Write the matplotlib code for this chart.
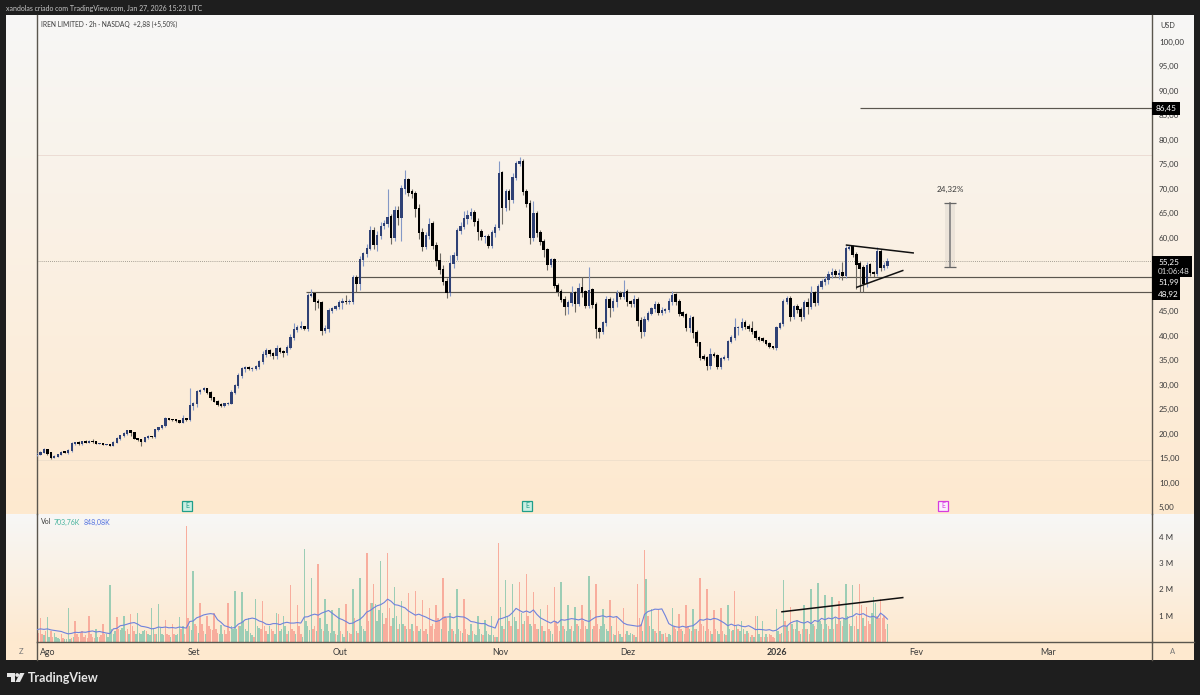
import matplotlib
matplotlib.use("Agg")
import matplotlib.pyplot as plt
from matplotlib.patches import Rectangle, Circle, Polygon
import numpy as np

plt.rcParams['font.family'] = ['Lato', 'DejaVu Sans']

# 2h candles, kept at two per trading day. x axis is in trading days
closes = [
    15.8, 16.2, 16.7, 16.0, 15.2, 15.4, 15.8, 16.2, 16.1, 16.6,
    17.9, 18.1, 17.9, 18.3, 18.2, 18.4, 18.3, 18.0, 18.0, 17.8,
    17.8, 17.6, 18.2, 19.0, 19.6, 20.0, 20.6, 20.2, 19.0, 18.7,
    18.4, 19.1, 19.4, 19.3, 20.8, 21.2, 21.6, 23.0, 22.9, 22.8,
    22.6, 22.3, 23.0, 22.8, 25.8, 26.2, 28.5, 28.9, 29.2, 28.3,
    27.3, 26.6, 25.9, 25.8, 26.1, 26.2, 28.4, 29.8, 31.8, 33.2,
    33.4, 33.2, 33.2, 33.6, 34.8, 36.2, 37.0, 36.3, 36.0, 37.4,
    36.8, 36.6, 37.6, 39.7, 41.2, 41.6, 41.8, 41.5, 48.3, 48.5,
    46.9, 46.7, 41.0, 41.5, 45.2, 45.6, 45.9, 46.7, 47.0, 46.9,
    47.0, 51.8, 50.6, 55.5, 56.8, 57.9, 61.5, 58.6, 60.4, 62.4,
    63.0, 64.2, 60.0, 65.6, 64.2, 70.0, 71.8, 69.3, 69.0, 66.0,
    61.0, 58.2, 60.4, 62.8, 58.4, 55.3, 53.5, 51.0, 48.9, 54.8,
    56.3, 61.4, 62.3, 64.0, 64.6, 65.1, 63.3, 61.2, 60.2, 60.2,
    58.5, 61.0, 62.1, 73.2, 66.2, 69.4, 67.8, 72.4, 75.2, 75.6,
    69.4, 67.0, 60.0, 65.0, 61.0, 59.2, 57.6, 54.5, 55.5, 50.2,
    49.0, 47.4, 46.0, 46.8, 48.7, 46.6, 49.7, 48.9, 46.2, 49.3,
    46.4, 41.4, 40.8, 42.6, 47.3, 45.7, 46.9, 48.6, 48.0, 48.9,
    47.0, 46.5, 47.4, 43.0, 40.8, 43.4, 44.6, 45.5, 46.3, 44.8,
    45.2, 45.3, 47.0, 48.3, 46.9, 44.6, 44.2, 41.6, 43.6, 40.6,
    38.5, 35.6, 35.4, 33.8, 36.2, 36.0, 33.6, 35.4, 35.6, 38.8,
    39.7, 41.6, 41.6, 42.6, 41.9, 41.5, 40.8, 39.6, 39.3, 39.0,
    38.4, 37.7, 37.5, 41.7, 42.4, 46.9, 47.6, 44.0, 45.9, 45.3,
    44.0, 46.8, 45.9, 48.7, 46.8, 50.0, 51.0, 51.4, 52.4, 53.0,
    52.4, 52.8, 52.2, 57.9, 58.1, 56.6, 54.6, 53.8, 50.6, 54.4,
    52.8, 52.6, 57.2, 54.0, 54.4, 55.25,
]

# wick length above / below the candle body
upper_wicks = [
    .2, .2, .3, .2, .1, .2, .1, .2, .1, .2,
    .3, .2, .3, .2, .3, .2, .5, .1, .1, .1,
    .1, .1, .2, .3, .2, .3, .2, .2, .2, .1,
    .1, .2, .3, .1, .2, .2, .2, .3, .2, .1,
    .2, .1, .7, .2, 3.5, .3, .4, .3, .4, .2,
    .3, .2, .2, .3, .2, .3, .4, .4, .5, .3,
    .4, .3, .3, .4, .3, .6, .5, .3, .4, .7,
    .3, .3, .4, .6, 1.4, .5, 1.2, .2, .4, 1.0,
    .3, .5, .3, .6, .4, .3, .3, .5, .7, 1.3,
    .4, .5, .6, .8, .3, .9, .9, .7, 1.0, .9,
    .7, 5.8, .6, .8, .8, .7, 2.0, .4, .6, .5,
    .8, 1.0, .8, 1.2, .6, .7, 1.5, 1.0, .8, 1.7,
    .8, .6, 1.0, 1.5, 1.0, 1.0, .6, .8, .6, .4,
    .5, .5, .7, 2.4, .4, .6, .5, .9, .4, .9,
    .5, .6, .8, 2.6, .5, .6, .5, .4, .3, .4,
    .5, .6, .8, .5, 1.5, .5, 1.0, 2.2, .4, 4.7,
    .4, .5, .4, .4, .8, .6, .7, .8, .5, 2.4,
    .6, .3, .9, .5, .8, .7, .5, .4, .7, .5,
    .6, .3, .7, .8, .4, .5, .4, .5, .7, .4,
    .5, .3, .7, .4, 1.2, .4, .3, .3, .4, .3,
    .4, 2.1, .4, 1.0, .5, .4, 1.4, .4, .3, .4,
    .2, .3, .2, .3, .4, .5, .4, .5, .4, .6,
    .5, .5, .8, 1.4, .4, .5, .6, .7, .9, .8,
    .7, .9, 2.2, .4, .5, .4, .4, .6, .7, .6,
    .5, .4, .9, .4, .7, .6,
]
lower_wicks = [
    .3, .2, .2, .3, .4, .2, .2, .2, .1, .2,
    .4, .2, .2, .2, .2, .2, .2, .2, .1, .2,
    .1, .2, .2, .2, .3, .2, .3, .7, .2, .2,
    .9, .2, .2, .2, .2, .3, .2, .3, .2, .2,
    .2, .2, .2, .2, .3, 1.0, .8, .4, .3, .3,
    .4, .2, .3, .4, .3, .2, .2, .4, .5, .4,
    .6, .3, .5, .3, .4, .5, .5, .5, .7, .8,
    .4, .9, .5, .4, .5, .4, .3, .3, .6, .4,
    1.7, 1.0, .8, .4, .8, .5, .4, .5, 1.2, .4,
    .5, .5, 1.6, 1.3, 1.2, .8, .4, .9, 1.4, .6,
    .7, .8, 1.2, .6, 1.5, 4.8, 1.0, .7, .8, 1.8,
    1.2, .9, .6, .6, .7, 1.0, 1.0, .6, 1.2, .8,
    1.0, .8, .7, .6, 1.2, .8, .8, 1.6, .6, 1.3,
    .6, .5, .8, .5, 3.4, .8, 2.2, .7, .6, .5,
    .6, .7, 1.2, .7, .8, .6, 1.6, 1.0, .5, .4,
    .8, .6, 1.8, 1.6, .7, 1.8, .6, 1.0, .6, .5,
    .8, 1.8, 1.2, .5, .6, 1.8, .6, 1.0, .5, .5,
    1.0, .6, .6, 1.0, 1.2, .8, .5, .4, .7, .6,
    .6, .5, .5, .7, .7, .5, .3, .6, .8, 1.0,
    .6, .5, .4, .9, .6, .4, .5, .4, .4, .5,
    .4, .5, 1.4, .4, .6, .5, .5, .4, .3, .3,
    .3, .3, .3, .4, .3, .5, .4, 1.1, .5, .6,
    1.0, .5, 1.4, .5, .7, .6, .5, .7, .8, .6,
    .5, .9, .8, .5, .5, .6, 5.0, 4.8, 1.7, .7,
    .7, .6, .5, .8, .6, .5,
]

# volume in millions, four bars a day, negative = down bar
volumes = [
    .3, -.35,
    -.9, -.3, .25, -.4,  .95, .2, -.4, -.2,  .35, .2, .15, .1,  -.3, -.15, .1, .12,
    1.3, .1, -.15, .2,  -.8, -.3, -.2, -.35,  -.4, -.2, -.25, -.15,  -1.0, -.3, -.2, -.15,
    .5, .2, -.2, -.25,  -.7, -.3, .3, .2,  2.15, .5, .3, .4,  -.95, -.5, .45, .55,
    1.0, -.4, -.5, .3,  -1.05, -.6, -.4, .3,  1.1, .35, .3, .4,  .45, -.4, .3, .25,
    1.3, .5, -.3, .3,  1.45, .55, .3, .25,  -.85, -.3, -.25, .2,  -.7, -.3, .25, .3,
    .95, -.5, .6, -.3,  -4.4, -.9, .6, .45,  2.7, -.7, -.6, .35,  -1.5, -.7, -.4, .3,
    -1.0, -.6, -.5, -.45,  -1.1, -.5, -.35, .3,  .65, .3, -.45, -.3,  -1.5, -.4, .6, .5,
    1.95, .5, -.6, .6,  1.9, .8, .5, .4,  .9, .35, .25, -.2,  1.65, .6, .55, -.5,
    -1.55, -.6, -.4, .3,  .6, -.5, -.4, .3,  1.1, -1.05, .4, .5,  1.0, .6, -.3, .4,
    -2.15, -.5, -.4, .3,  -1.4, -.6, -.3, .2,  3.55, .8, .6, .45,  2.45, -.5, -.6, .4,
    -2.95, .9, .5, -.4,  1.65, .7, .4, .35,  1.2, .4, -.3, .25,  1.3, -.4, .3, .2,
    -1.45, .4, -.35, -.3,  2.0, -.9, .4, -.35,  2.45, .6, .5, .4,  -3.4, -.8, -1.5, 1.5,
    -2.2, 1.45, .8, 1.2,  3.1, 1.1, -.7, -.9,  -3.4, -1.3, -.6, .9,  2.1, 1.0, -.5, .7,
    1.55, .7, -.6, .5,  -1.85, -.5, .7, -.4,  -1.95, -.6, .4, .5,  -1.6, -.4, -.5, .3,
    -1.3, -.6, -.7, -.5,  -1.4, -.9, -.8, .5,  -2.45, -1.0, -.9, .4,  1.1, -.5, .4, -.3,
    2.0, .5, -.4, .35,  -1.65, -.5, -.3, .25,  .7, -.4, .3, .25,  1.0, .5, .3, -.25,
    .85, .4, .3, .25,  1.0, .25, -.2, .2,  -3.75, 1.35, .6, -.5,  2.35, 1.0, -.8, -.6,
    2.2, .95, .8, -.5,  -2.3, 1.1, -.7, .8,  -2.6, -1.0, .7, .6,  -1.9, -.7, -.5, .5,
    1.25, -.6, .4, -.4,  -1.4, -.5, .4, .3,  -2.1, -.8, -.6, -.4,  2.3, -.6, .5, .4,
    1.4, .5, -.6, .4,  1.35, -.7, .6, -.5,  -1.4, -.8, -.6, .5,  2.5, -1.2, .5, -.6,
    -2.2, -.7, -.5, .6,  1.25, .7, .5, .4,  -1.6, .6, -.3, .25,  -1.0, -.4, .3, .2,
    -1.3, -.3, .4, .25,  .35, .3, -.25, .2,  -2.2, -.9, -.7, .4,  -3.5, 2.4, -1.0, .6,
    1.25, .5, -.4, .35,  -1.2, .4, -.3, .3,  -.35, -.2, .3, .25,  1.3, -.6, -.5, .4,
    -1.05, -.5, .4, -.3,  -1.4, -.6, .5, -.4,  1.25, -.5, .5, -.4,  -2.45, -.7, -.6, .4,
    -2.0, -.5, -.4, .3,  -1.2, -.5, .4, .3,  -1.3, -.4, .3, -.25,  1.4, .5, -.4, .45,
    -1.95, .6, -.5, .4,  .8, .5, -.3, .4,  -.35, .2, -.25, .2,  -1.0, 1.0, .3, -.2,
    .8, -.2, .3, -.2,  -.3, -.25, -.2, -.15,  1.25, .4, -.3, .35,  2.35, -.8, .6, -.4,
    -1.35, .7, -.5, .5,  .85, -.4, .3, -.5,  1.4, -.5, .5, -.3,  2.0, .7, -.6, .5,
    2.25, .8, .7, -.5,  1.8, .7, -.6, .5,  1.7, -.5, .9, -.7,  -1.55, .8, -.6, .9,
    2.2, 1.0, -.7, .6,  2.15, -.6, -1.0, .5,  -2.2, -1.4, .9, -.6,  -1.35, -.8, -.7, 1.1,
    1.7, 1.5, -1.0, -.9,  -1.65, -.9, -1.0, -.5,  .7,
]

# volume average line, two values per day
vol_ma = [
    .47, .5, .48, .5, .46, .44, .42, .4, .35, .31,
    .33, .37, .36, .38, .37, .4, .42, .38, .4, .37,
    .34, .32, .5, .52, .62, .64, .68, .72, .74, .68,
    .6, .58, .55, .5, .52, .57, .55, .57, .54, .55,
    .53, .57, .55, .53, .78, .8, .92, .97, 1.03, 1.06,
    1.08, 1.06, .85, .75, .62, .58, .53, .55, .68, .74,
    .85, .88, .91, .88, .8, .76, .68, .66, .7, .7,
    .66, .72, .75, .72, .72, .74, .72, .95, .96, 1.02,
    1.06, 1.02, 1.1, 1.15, 1.2, 1.1, 1.0, .9, .85, .78,
    .7, .72, .8, .86, .98, 1.14, 1.2, 1.3, 1.38, 1.42,
    1.5, 1.63, 1.55, 1.42, 1.4, 1.35, 1.3, 1.18, 1.1, 1.02,
    1.06, 1.0, .95, .88, .82, .78, .82, .92, .95, .96,
    .92, .98, .96, .95, .88, .78, .76, .72, .7, .7,
    .62, .58, .53, .87, .9, .95, 1.0, 1.12, 1.28, 1.2,
    1.13, 1.18, 1.12, 1.22, 1.05, .92, .85, .78, .72, .8,
    .72, .85, .83, .86, .89, .87, .84, .88, .82, .78,
    .87, .95, .97, 1.0, .95, .98, .94, .97, .85, .72,
    .66, .64, .62, .6, .62, 1.05, 1.16, 1.2, 1.25, 1.24,
    1.26, 1.0, .7, .62, .58, .56, .6, .56, .6, .62,
    .72, .85, .83, .88, .85, .9, .87, .8, .72, .62,
    .68, .62, .65, .6, .58, .62, .55, .47, .48, .47,
    .45, .47, .42, .45, .55, .62, .6, .72, .78, .81,
    .75, .72, .78, .7, .82, .78, .9, .85, .91, .88,
    .95, .88, .92, .87, .95, .98, 1.08, 1.04, 1.08, 1.0,
    .95, .98, .9, 1.1, 1.0, .87,
]

price_ticks = [5, 10, 15, 20, 25, 30, 35, 40, 45, 60, 65, 70, 75, 80, 85, 90, 95, 100]
vol_ticks = [1, 2, 3, 4]
date_labels = ['Ago', 'Set', 'Out', 'Nov', 'Dez', '2026', 'Fev', 'Mar']
date_days = [1.6, 22.6, 43.6, 66.7, 85.1, 106.6, 126.6, 145.6]

level_upper = 51.99
level_lower = 48.92
level_target = 86.45
last_price = 55.25
range_high = 77.0
range_low = 14.5

# drawings on the chart: (day, price)
wedge_top = [(116.6, 58.5), (126.2, 56.9)]
wedge_bottom = [(118.1, 49.9), (124.7, 53.3)]
vol_trend = [(107.3, 1.15), (124.7, 1.69)]
measure_day = 131.5
measure_from = 54.0
measure_to = 67.17

DARK = '#1e1e1e'
GRID_LINE = '#5a564e'
TEXT = '#3a3a3a'
UP = '#2f4175'
DOWN = '#000000'
VOL_UP = '#9ccdb5'
VOL_DOWN = '#f8ad9d'

fig = plt.figure(figsize=(12, 6.95), dpi=100, facecolor=DARK)


def pane_rect(left, top, right, bottom):
    return [left / 1200, 1 - bottom / 695, (right - left) / 1200, (bottom - top) / 695]


# background gradients, price pane then volume pane and time scale
bg = fig.add_axes(pane_rect(6, 15, 1194, 660), zorder=0)
top_c = np.array([247, 247, 246]) / 255
low_c = np.array([254, 233, 207]) / 255
rows = []
for t in np.linspace(0, 1, 499):
    rows.append(top_c + (low_c - top_c) * t)
for t in np.linspace(0, 1, 128):
    rows.append(top_c + (low_c - top_c) * t)
for t in range(18):
    rows.append(low_c)
bg.imshow(np.array(rows)[:, None, :], aspect='auto', interpolation='nearest')
bg.axis('off')

# price pane
ax = fig.add_axes(pane_rect(37, 15, 1152, 514), zorder=2, facecolor='none')
ax.set_xlim(0, 160.6)
ax.set_ylim(3.57, 105.5)

c = np.array(closes)
o = np.array([closes[0]] + closes[:-1])
x = np.arange(len(c)) * 0.5
is_up = c >= o
top = np.maximum(o, c)
bottom = np.minimum(o, c)
high = top + np.array(upper_wicks)
low = bottom - np.array(lower_wicks)

ax.axhline(range_high, color='#ecdcd4', lw=0.7, zorder=1)
ax.axhline(range_low, color='#f0e0cc', lw=0.7, zorder=1)
ax.axhline(last_price, color='#8a857c', lw=0.6, ls=(0, (1, 1.5)), zorder=1)
ax.hlines(level_upper, 45.8, 160.6, color=GRID_LINE, lw=0.85, zorder=2)
ax.hlines(level_lower, 38.8, 160.6, color=GRID_LINE, lw=0.85, zorder=2)
ax.hlines(level_target, 118.5, 160.6, color=GRID_LINE, lw=0.85, zorder=2)

ax.vlines(x[is_up], low[is_up], high[is_up], color='#8498c6', lw=0.8, zorder=3)
ax.vlines(x[~is_up], low[~is_up], high[~is_up], color='#6e6a63', lw=0.8, zorder=3)
ax.bar(x[is_up], (top - bottom)[is_up] + 0.2, bottom=bottom[is_up] - 0.1, width=0.32, color=UP, zorder=4)
ax.bar(x[~is_up], (top - bottom)[~is_up] + 0.25, bottom=bottom[~is_up] - 0.1, width=0.38, color=DOWN, zorder=5)

for seg in (wedge_top, wedge_bottom):
    ax.plot([seg[0][0], seg[1][0]], [seg[0][1], seg[1][1]], color='#111111', lw=1.1, zorder=6)

# measure tool
ax.add_patch(Rectangle((measure_day - 0.72, measure_from), 1.44, measure_to - measure_from,
                       color='#8a8a8a', alpha=0.12, lw=0, zorder=2))
ax.plot([measure_day, measure_day], [measure_from, measure_to], color='#7f7f7f', lw=1.2, zorder=3)
ax.hlines([measure_from, measure_to], measure_day - 0.85, measure_day + 0.85, color='#666666', lw=0.9, zorder=3)
ax.text(measure_day, measure_to + 2, '24,32%', ha='center', va='bottom', fontsize=5.9, color=TEXT)

ax.set_xticks([])
ax.yaxis.tick_right()
ax.set_yticks(price_ticks)
ax.set_yticklabels(['%d,00' % p for p in price_ticks], fontsize=5.8, color=TEXT)
ax.tick_params(axis='y', length=0, pad=5)
for name, spine in ax.spines.items():
    spine.set_visible(name in ('left', 'right'))
    spine.set_color(GRID_LINE)
    spine.set_linewidth(1)

# volume pane
vax = fig.add_axes(pane_rect(37, 514, 1152, 642), zorder=2, facecolor='none')
vax.set_xlim(0, 160.6)
vax.set_ylim(0, 4.87)
v = np.array(volumes)
vx = np.arange(len(v)) * 0.25
vax.bar(vx, np.abs(v), width=0.21, color=[VOL_UP if val > 0 else VOL_DOWN for val in v], zorder=2)
vax.plot(np.arange(len(vol_ma)) * 0.5, vol_ma, color='#6f82dc', lw=0.8, zorder=3)
vax.plot([vol_trend[0][0], vol_trend[1][0]], [vol_trend[0][1], vol_trend[1][1]], color='#111111', lw=1.1, zorder=4)

vax.yaxis.tick_right()
vax.set_yticks(vol_ticks)
vax.set_yticklabels(['%d M' % t for t in vol_ticks], fontsize=5.8, color=TEXT)
vax.tick_params(axis='y', length=0, pad=5)
vax.set_xticks(date_days)
vax.set_xticklabels(date_labels, fontsize=6.3, color=TEXT)
vax.get_xticklabels()[5].set_fontweight('bold')
vax.tick_params(axis='x', length=0, pad=4)
for name, spine in vax.spines.items():
    spine.set_visible(name in ('left', 'right', 'bottom'))
    spine.set_color(GRID_LINE)
    spine.set_linewidth(1)

# overlay in pixel coordinates for header, price tags and logo
ov = fig.add_axes([0, 0, 1, 1], zorder=5, facecolor='none')
ov.set_xlim(0, 1200)
ov.set_ylim(695, 0)
ov.axis('off')

ov.text(6, 8, 'xandolas criado com TradingView.com, Jan 27, 2026 15:23 UTC',
        fontsize=5.0, color='#c8c8c8', va='center')
ov.text(41, 24, 'IREN LIMITED · 2h · NASDAQ  +2,88 (+5,50%)', fontsize=4.8, color=TEXT, va='center')
ov.text(1160, 25, 'USD', fontsize=5.2, color=TEXT, va='center')
ov.text(41, 522, 'Vol', fontsize=5.0, color=TEXT, va='center')
ov.text(54, 522, '703,76K', fontsize=5.0, color='#45b39d', va='center')
ov.text(84, 522, '848,08K', fontsize=5.0, color='#4f6fe0', va='center')
ov.text(21, 652, 'Z', fontsize=5.5, color='#777777', ha='center', va='center')
ov.text(1173, 652, 'A', fontsize=5.5, color='#777777', ha='center', va='center')

# vertical scale lines run down through the time scale
ov.plot([37, 37], [642, 660], color=GRID_LINE, lw=1)
ov.plot([1152, 1152], [642, 660], color=GRID_LINE, lw=1)
ov.plot([1152, 1194], [642, 642], color=GRID_LINE, lw=1)

# price tags
ov.add_patch(Rectangle((1152, 102), 28, 13, color='black', lw=0))
ov.text(1156, 108.5, '86,45', fontsize=5.9, color='white', va='center')
ov.add_patch(Rectangle((1152, 256), 40, 21, color='black', lw=0))
ov.text(1158, 262, '55,25', fontsize=5.9, color='white', va='center')
ov.text(1158, 271, '01:06:48', fontsize=5.8, color='#d8d8d8', va='center')
ov.add_patch(Rectangle((1152, 277), 28, 23, color='black', lw=0))
ov.text(1158, 282, '51,99', fontsize=5.9, color='white', va='center')
ov.text(1158, 294, '48,92', fontsize=5.9, color='white', va='center')

# earnings markers
for ex, edge, face in ((187, '#1f9e89', '#c9eee2'), (527, '#1f9e89', '#c9eee2'), (943, '#d63be0', '#fbeefc')):
    ov.add_patch(Rectangle((ex - 5, 501), 10, 10, facecolor=face, edgecolor=edge, lw=0.9, zorder=3))
    ov.text(ex, 506, 'E', fontsize=5, color=edge, ha='center', va='center', zorder=4)

# logo
LOGO = '#e6e6e6'
ov.add_patch(Polygon([(7, 673), (15, 673), (15, 682), (11, 682), (11, 677), (7, 677)], color=LOGO, lw=0))
ov.add_patch(Circle((17.2, 675), 1.9, color=LOGO, lw=0))
ov.add_patch(Polygon([(20, 673), (24.5, 673), (20, 682), (15.5, 682)], color=LOGO, lw=0))
ov.text(28, 677.5, 'TradingView', fontsize=9, fontweight='bold', color=LOGO, va='center')

fig.savefig('out.png', dpi=100, facecolor=DARK)
